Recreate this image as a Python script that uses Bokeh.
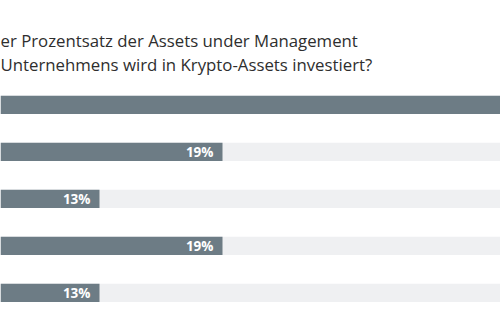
from bokeh.plotting import figure
from bokeh.models import Range1d, ColumnDataSource, Label
from bokeh.core.properties import value
from bokeh.embed import file_html
from bokeh.resources import INLINE

# Data (percent of AUM invested in crypto assets), visible part of a cropped chart
values = [36, 19, 13, 19, 13]
labels = ["36%", "19%", "13%", "19%", "13%"]
track_max = [100, 100, 100, 100, 100]
title_lines = [
    "er Prozentsatz der Assets under Management",
    "Unternehmens wird in Krypto-Assets investiert?",
]

BAR = "#6d7c85"
TRACK = "#eff0f2"

X_START, X_END = 8.171, 32.561

idx = list(range(len(values)))
src = ColumnDataSource(dict(y=idx, v=values, t=track_max))
# only labels whose bar end lies inside the visible window
vis = [i for i in idx if values[i] < X_END]
lab_src = ColumnDataSource(dict(y=[idx[i] for i in vis], v=[values[i] for i in vis],
                                lab=[labels[i] for i in vis]))

p = figure(width=500, height=330, output_backend="svg", toolbar_location=None,
           x_range=Range1d(X_START, X_END), y_range=Range1d(4.799, -2.218),
           min_border=0, min_border_left=0, min_border_right=0,
           min_border_top=0, min_border_bottom=0)
p.axis.visible = False
p.grid.visible = False
p.outline_line_color = None
p.background_fill_color = "white"
p.border_fill_color = "white"

h = 0.39
p.hbar(y="y", left=0, right="t", height=h, source=src, fill_color=TRACK, line_color=None)
p.hbar(y="y", left=0, right="v", height=h, source=src, fill_color=BAR, line_color=None)
p.text(x="v", y="y", text="lab", source=lab_src, x_offset=-9, text_align="right",
       text_baseline="middle", text_color="white", text_font=value("Open Sans"),
       text_font_style="bold", text_font_size="13.5px")

for i, line in enumerate(title_lines):
    p.add_layout(Label(x=0, y=330 - 40 - 24 * i, x_units="screen", y_units="screen",
                       text=line, text_font="Open Sans", text_font_size="16.8px",
                       text_color="#2e2e2e", text_baseline="alphabetic"))

open("out.html", "w").write(file_html(p, INLINE))
